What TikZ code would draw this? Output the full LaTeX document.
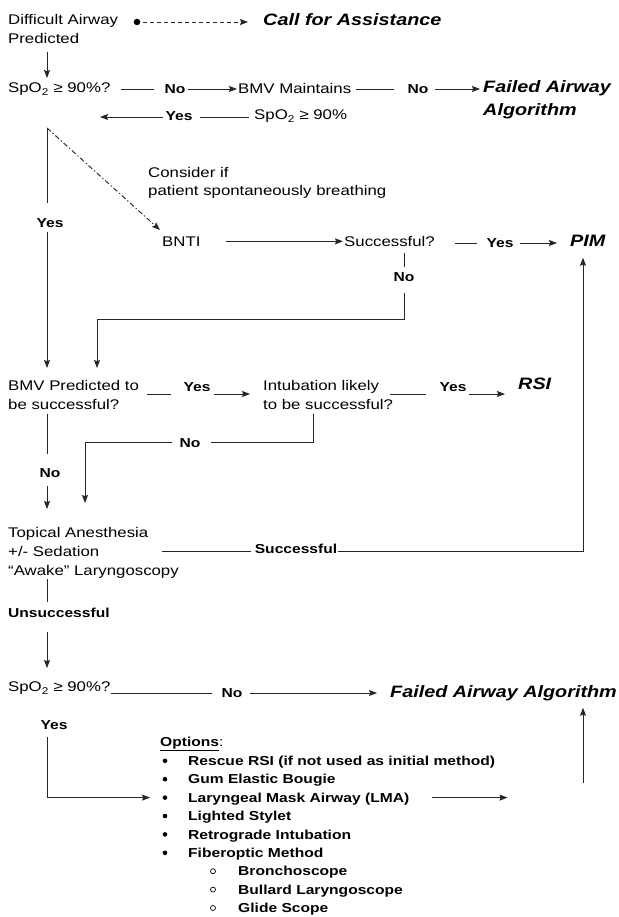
\documentclass[tikz,border=0pt]{standalone}
\usepackage{fontspec}
\setmainfont{Liberation Sans}[FakeStretch=1.2]
\usetikzlibrary{arrows.meta}
\begin{document}
\begin{tikzpicture}[x=1pt,y=-1pt,
  txt/.style={inner sep=0pt, anchor=north west, align=left, font=\fontsize{14}{19}\selectfont},
  big/.style={inner sep=0pt, anchor=north west, align=left, font=\bfseries\itshape\fontsize{16.5}{23}\selectfont},
  lbl/.style={inner sep=0pt, text height=9.3pt, text depth=0pt, font=\bfseries\fontsize{13}{15}\selectfont},
  item/.style={inner sep=0pt, anchor=base west, font=\bfseries\fontsize{13}{15}\selectfont},
  bul/.style={circle, fill=black, inner sep=0pt, minimum size=4.6pt},
  subbul/.style={circle, draw=black, line width=0.7pt, inner sep=0pt, minimum size=5pt},
  ln/.style={line width=0.95pt, draw=black!85},
  arr/.style={ln, -{Stealth[length=8pt,width=6pt,inset=1.2pt]}},
  dashdot/.style={dash pattern=on 5pt off 2.5pt on 1.2pt off 2.5pt},
]
\fill[white] (0,0) rectangle (618,917);
\useasboundingbox (0,0) rectangle (618,917);

% ---------- text nodes ----------
\node[txt] (diff) at (8,14) {Difficult Airway\\Predicted};
\node[big] (call) at (263,13) {Call for Assistance};
\node[bul, minimum size=6.5pt] (dot) at (137,22) {};

\node[txt] (spo1) at (8,83) {SpO\textsubscript{2} ≥ 90\%?};
\node[lbl] (no1) at (175,89) {No};
\node[txt] (bmvm) at (238,83) {BMV Maintains};
\node[lbl] (no2) at (418,89) {No};
\node[big] (fail1) at (483,80) {Failed Airway\\Algorithm};
\node[lbl] (yes1) at (179,116) {Yes};
\node[txt] (spo2) at (254,110) {SpO\textsubscript{2} ≥ 90\%};

\node[txt, font=\fontsize{14}{18.5}\selectfont] (cons) at (148,167) {Consider if\\patient spontaneously breathing};
\node[lbl] (yes2) at (50,223) {Yes};
\node[txt] (bnti) at (162,237) {BNTI};
\node[txt] (succ) at (344,236) {Successful?};
\node[lbl] (yes3) at (500,243) {Yes};
\node[big] (pim) at (570,235) {PIM};
\node[lbl] (no3) at (404,277) {No};

\node[txt] (bmvp) at (8,380) {BMV Predicted to\\be successful?};
\node[lbl] (yes4) at (197,387) {Yes};
\node[txt] (intub) at (263,380) {Intubation likely\\to be successful?};
\node[lbl] (yes5) at (453,387) {Yes};
\node[big] (rsi) at (518,378) {RSI};
\node[lbl] (no4) at (190,443) {No};
\node[lbl] (no5) at (50,473) {No};

\node[txt] (topic) at (8,527) {Topical Anesthesia\\+/- Sedation\\“Awake” Laryngoscopy};
\node[lbl] (succl) at (296,549) {Successful};
\node[lbl, anchor=west] (unsucc) at (8,613) {Unsuccessful};

\node[txt] (spo3) at (8,682) {SpO\textsubscript{2} ≥ 90\%?};
\node[lbl] (no6) at (232,693) {No};
\node[big] (fail2) at (390,685) {Failed Airway Algorithm};
\node[lbl] (yes6) at (54,725) {Yes};

\node[item] (opt) at (160,746.5) {\underline{Options}{\mdseries :}};
\node[item] (it1) at (188,765.5) {Rescue RSI (if not used as initial method)};
\node[item] (it2) at (188,783.9) {Gum Elastic Bougie};
\node[item] (lma) at (188,802.3) {Laryngeal Mask Airway (LMA)};
\node[item] (it4) at (188,820.7) {Lighted Stylet};
\node[item] (it5) at (188,839.1) {Retrograde Intubation};
\node[item] (it6) at (188,857.5) {Fiberoptic Method};
\node[item] (it7) at (238,875.9) {Bronchoscope};
\node[item] (it8) at (238,894.3) {Bullard Laryngoscope};
\node[item] (it9) at (238,912.7) {Glide Scope};
\node[bul] (b1) at (165,760.8) {};
\node[bul] (b2) at (165,779.2) {};
\node[bul] (b3) at (165,797.6) {};
\node[bul] (b4) at (165,816) {};
\node[bul] (b5) at (165,834.4) {};
\node[bul] (b6) at (165,852.8) {};
\node[subbul] (c1) at (213,871.2) {};
\node[subbul] (c2) at (213,889.6) {};
\node[subbul] (c3) at (213,908) {};

% ---------- helper coordinates ----------
\coordinate (top) at (47,128);
\coordinate (ytip) at (100,117);
\coordinate (b1x) at (97,319);
\coordinate (r4) at (0,394);
\coordinate (i1) at (313,442);
\coordinate (n1) at (85,442);
\coordinate (s1) at (162,551);
\coordinate (R1) at (583,551);
\coordinate (u1) at (583,783);

% ---------- connectors ----------
\draw[arr, dashed, dash pattern=on 4pt off 3pt, shorten <=3pt, shorten >=15pt] (dot) -- (call.west |- dot);
\draw[arr, shorten <=8pt, shorten >=5pt] (diff.south -| top) -- (spo1.north -| top);

\draw[ln] ([xshift=10pt]spo1.east |- no1) -- ([xshift=-10pt]no1.west);
\draw[arr] ([xshift=2pt]no1.east) -- ([xshift=-1pt]bmvm.west |- no1);
\draw[ln] ([xshift=5pt]bmvm.east |- no2) -- ([xshift=-13pt]no2.west);
\draw[arr] ([xshift=6pt]no2.east) -- ([xshift=-3pt]fail1.west |- no2);

\draw[ln] ([xshift=-5pt]spo2.west |- ytip) -- ([xshift=7pt]yes1.east |- ytip);
\draw[arr] ([xshift=-2pt]yes1.west |- ytip) -- (ytip);

\draw[arr, dashdot] (top) -- ([xshift=-2pt,yshift=7pt]bnti.north west);
\draw[ln] (top) -- ([yshift=15pt]yes2.north -| top);
\draw[arr, shorten >=12pt] ([yshift=-4pt]yes2.south -| top) -- (bmvp.north -| top);

\draw[arr] ([xshift=25pt]bnti.east |- succ.west) -- ([xshift=-1pt]succ.west);
\draw[ln] ([xshift=20pt]succ.east |- yes3) -- ([xshift=-9pt]yes3.west);
\draw[arr] ([xshift=6pt]yes3.east) -- ([xshift=-13pt]pim.west |- yes3);

\draw[ln] ([yshift=-6pt]succ.south -| no3) -- ([yshift=5pt]no3.north);
\draw[arr, shorten >=12pt] ([yshift=-11pt]no3.south) -- (no3 |- b1x) -- (b1x) -- (bmvp.north -| b1x);

\draw[ln] ([xshift=8pt]bmvp.east |- r4) -- ([xshift=-12pt]yes4.west |- r4);
\draw[arr] ([xshift=3pt]yes4.east |- r4) -- ([xshift=-13pt]intub.west |- r4);
\draw[ln] ([xshift=-3pt]intub.east |- r4) -- ([xshift=-13pt]yes5.west |- r4);
\draw[arr] ([xshift=2pt]yes5.east |- r4) -- ([xshift=-13pt]rsi.west |- r4);

\draw[ln] ([yshift=-4pt]intub.south -| i1) -- (i1) -- ([xshift=10pt]no4.east |- i1);
\draw[arr, shorten >=24pt] ([xshift=-7pt]no4.west |- n1) -- (n1) -- (topic.north -| n1);

\draw[ln] ([yshift=-4pt]bmvp.south -| top) -- ([yshift=14pt]no5.north -| top);
\draw[arr, shorten >=18pt] ([yshift=-8pt]no5.south -| top) -- (topic.north -| top);

\draw[ln] (s1) -- ([xshift=-4pt]succl.west |- s1);
\draw[arr, shorten >=11pt] ([xshift=1pt]succl.east |- R1) -- (R1) -- (pim.south -| R1);

\draw[ln] ([yshift=-1pt]topic.south -| top) -- ([yshift=6pt]unsucc.north -| top);
\draw[arr, shorten >=14pt] ([yshift=-14pt]unsucc.south -| top) -- (spo3.north -| top);

\draw[ln] (spo3.east |- no6) -- ([xshift=-9pt]no6.west);
\draw[arr] ([xshift=7pt]no6.east) -- ([xshift=-13pt]fail2.west |- no6);

\draw[arr] ([yshift=-7pt]yes6.south -| top) -- (b3 -| top) -- ([xshift=-38pt]lma.west |- b3);
\draw[arr] ([xshift=23pt]lma.east |- b3) -- ([xshift=98pt]lma.east |- b3);
\draw[arr, shorten >=7pt] (u1) -- (fail2.south -| u1);
\end{tikzpicture}
\end{document}
